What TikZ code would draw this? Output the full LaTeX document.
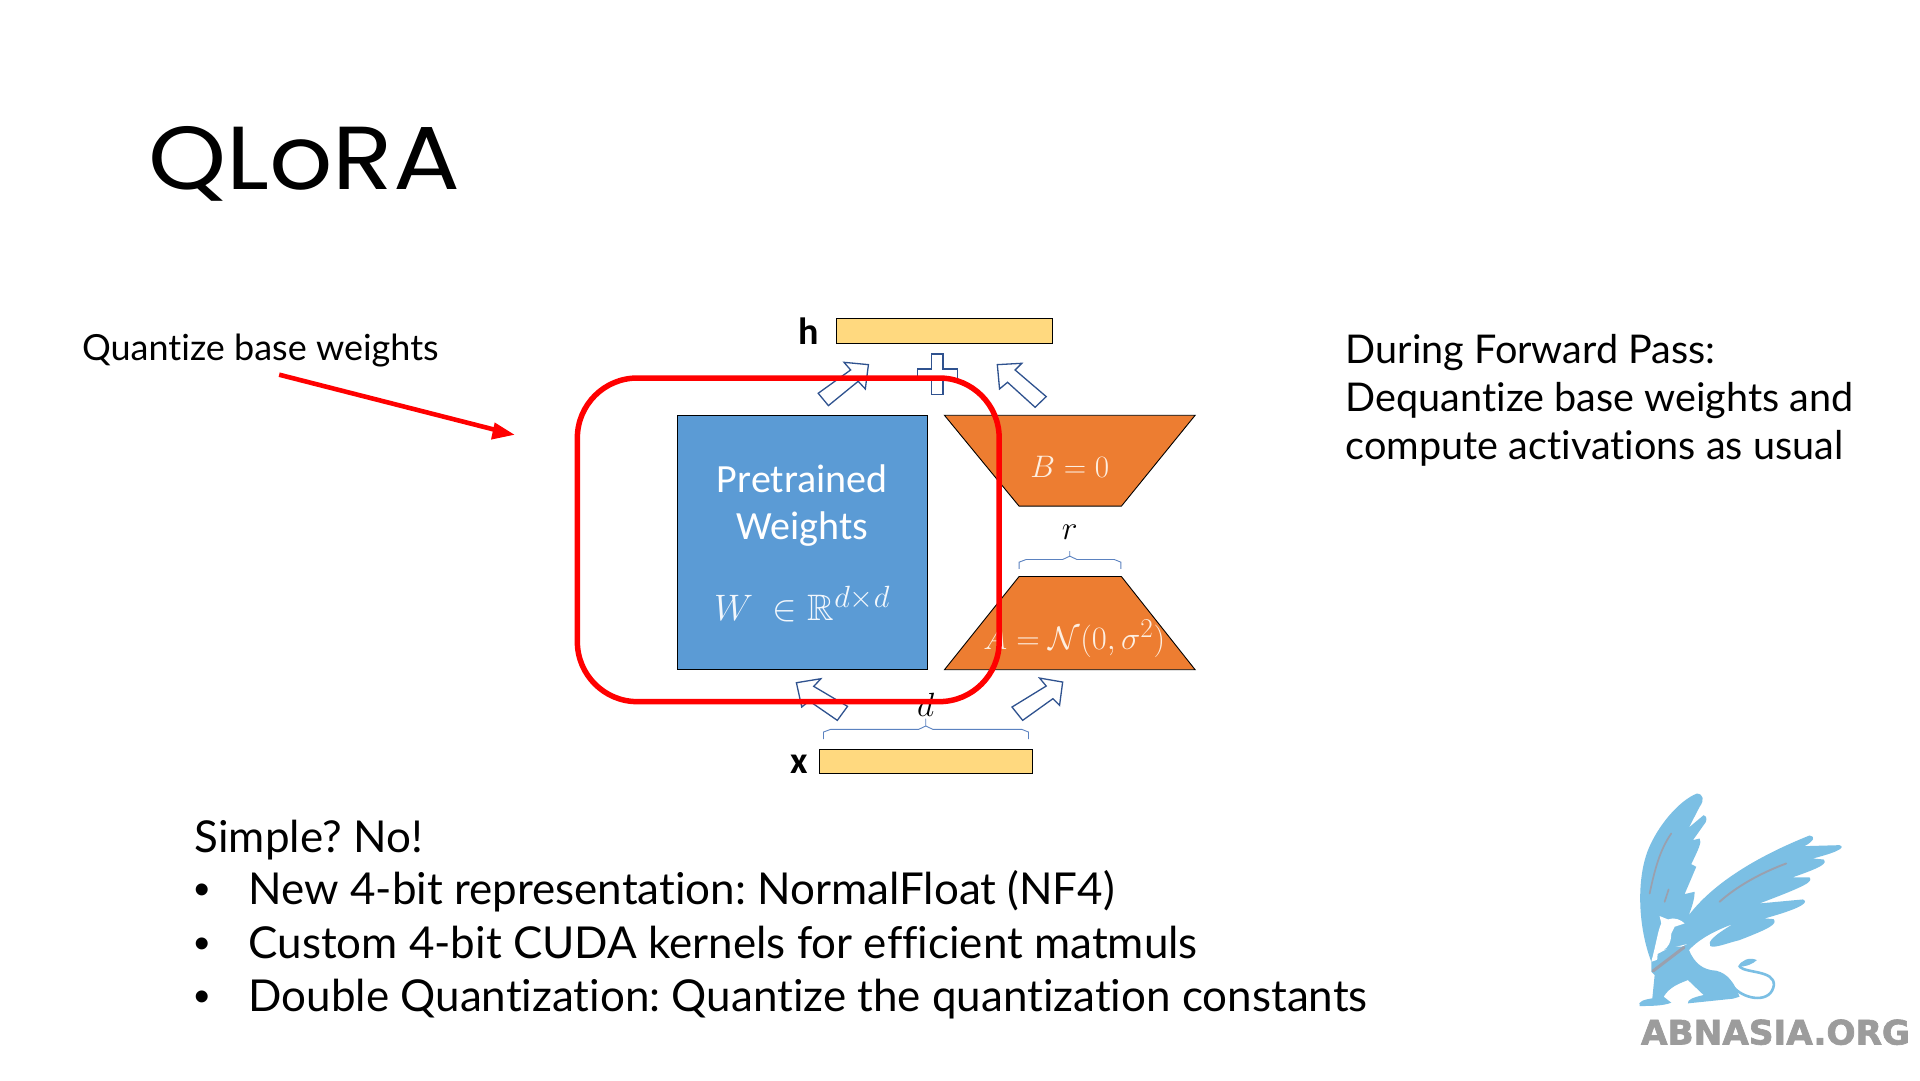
\documentclass[tikz,border=0pt]{standalone}
\usepackage{amsmath,amssymb}
\usepackage{fontspec}
\setmainfont{Lato}[Ligatures=NoCommon]
\newfontfamily\titlefont{Poppins}
\newfontfamily\calib{Carlito}
\newfontfamily\bulletfont{Liberation Sans}
\newfontfamily\logofont[FakeBold=2]{DejaVu Sans}
\usetikzlibrary{calc}
\definecolor{boxblue}{HTML}{5B9BD5}
\definecolor{orng}{HTML}{ED7D31}
\definecolor{barY}{HTML}{FFD97F}
\definecolor{arrowblue}{HTML}{2F528F}
\definecolor{bracecol}{HTML}{5B82C0}
\definecolor{griff}{HTML}{7BBFE4}
\definecolor{griffgray}{HTML}{9AA0AE}
\definecolor{logogray}{HTML}{9C9C9C}
\definecolor{softw}{HTML}{FDEEE0}
\tikzset{
  txt/.style={anchor=base west,inner sep=0pt,outer sep=0pt,text=black},
  solidshape/.style={draw=black,line width=0.9pt},
  blockarrow/.style={draw=arrowblue,fill=white,line width=1.3pt,line join=miter},
  bracel/.style={draw=bracecol,line width=0.9pt},
  redline/.style={draw=red,line width=5.5pt},
  mathw/.style={inner sep=0pt,text=softw,font=\fontsize{24.88}{30}\selectfont},
  griffstroke/.style={griffgray,line cap=round}
}
\frenchspacing
\begin{document}
\begin{tikzpicture}[x=1.2245pt,y=-1.2245pt]
\useasboundingbox (0,0) rectangle (1568,882);
\fill[white] (0,0) rectangle (1568,882);

\node[txt,font=\titlefont\fontsize{86}{100}\selectfont] (title) at (121,154.5) {\scalebox{1.155}[1.04]{QLoRA}};
\node[txt,font=\fontsize{36}{43}\selectfont] (quant) at (67,294) {Quantize base weights};
\coordinate (qa) at (228,306); \coordinate (qb) at (420,355);
\draw[red,line width=4.6pt] (qa) -- ($(qa)!0.95!(qb)$);
\fill[red] (qb) -- (404,345) -- (401,359) -- cycle;

\node[txt,font=\fontsize{39.6}{48}\selectfont] (fw1) at (1099,297) {During Forward Pass:};
\node[txt,font=\fontsize{39.6}{48}\selectfont] (fw2) at (1099,336) {Dequantize base weights and};
\node[txt,font=\fontsize{39.6}{48}\selectfont] (fw3) at (1099,375) {compute activations as usual};

\node[txt,font=\fontsize{43.95}{53}\selectfont] (s0) at (159,696.5) {Simple? No!};
\node[txt,font=\bulletfont\fontsize{44}{53}\selectfont] (b1) at (159,739) {•};
\node[txt,font=\fontsize{43.95}{53}\selectfont] (t1) at (203,739) {New 4-bit representation: NormalFloat (NF4)};
\node[txt,font=\bulletfont\fontsize{44}{53}\selectfont] (b2) at (159,783) {•};
\node[txt,font=\fontsize{43.95}{53}\selectfont] (t2) at (203,783) {Custom 4-bit CUDA kernels for efficient matmuls};
\node[txt,font=\bulletfont\fontsize{44}{53}\selectfont] (b3) at (159,826) {•};
\node[txt,font=\fontsize{43.95}{53}\selectfont] (t3) at (203,826) {Double Quantization: Quantize the quantization constants};

% diagram, in crop coordinates
\begin{scope}[shift={(442.4,237.4)},xscale=.363,yscale=.272]
  \draw[solidshape,fill=barY] (662,83) rectangle (1149,158);
  \draw[solidshape,fill=barY] (625,1378) rectangle (1104,1450);
  \node[inner sep=0pt,font=\calib\bfseries\fontsize{38}{42}\selectfont] (h) at (600,122) {h};
  \node[inner sep=0pt,font=\calib\bfseries\fontsize{38}{42}\selectfont] (x) at (580,1422) {x};
  \draw[solidshape,fill=boxblue] (305,375) rectangle (868,1138);
  \node[inner sep=0pt,text=white,font=\calib\fontsize{40}{44}\selectfont] (pre) at (586,566) {Pretrained};
  \node[inner sep=0pt,text=white,font=\calib\fontsize{40}{44}\selectfont] (wei) at (586,717) {Weights};
  \node[inner sep=0pt,text=white!92!boxblue,font=\fontsize{24.88}{30}\selectfont] (wm) at (586,940) {\scalebox{1.48}{$W\ \in\mathbb{R}^{d\times d}$}};
  \draw[solidshape,fill=orng] (906,374) -- (1470,374) -- (1304,647) -- (1074,647) -- cycle;
  \draw[solidshape,fill=orng] (906,1138) -- (1470,1138) -- (1304,858) -- (1074,858) -- cycle;
  \node[mathw] (bz) at (1188,530) {\scalebox{1.25}{$B=0$}};
  \node[mathw] (az) at (1198,1045) {\scalebox{1.31}{$A=\mathcal{N}(0,\sigma^2)$}};
  \node[inner sep=0pt,font=\fontsize{24.88}{30}\selectfont] (r) at (1188,725) {\scalebox{1.35}{$r$}};
  \node[inner sep=0pt,font=\fontsize{24.88}{30}\selectfont] (d) at (864,1243) {\scalebox{1.35}{$d$}};
  \draw[bracel] (1074,835) -- (1074,815) -- (1090,807) -- (1172,807) -- (1188,797) -- (1188,782) (1188,797) -- (1204,807) -- (1288,807) -- (1303,815) -- (1303,835);
  \draw[bracel] (634,1346) -- (634,1325) -- (650,1317) -- (848,1317) -- (864,1307) -- (864,1285) (864,1307) -- (880,1317) -- (1080,1317) -- (1095,1325) -- (1095,1346);
  \draw[blockarrow] (622,308) -- (695,238) -- (680,215) -- (735,222) -- (728,295) -- (712,272) -- (645,345) -- cycle;
  \draw[blockarrow] (1135,318) -- (1065,238) -- (1080,218) -- (1025,222) -- (1030,295) -- (1048,275) -- (1110,350) -- cycle;
  \draw[blockarrow] (877,190) -- (903,190) -- (903,235) -- (935,235) -- (935,265) -- (903,265) -- (903,312) -- (877,312) -- (877,265) -- (845,265) -- (845,235) -- (877,235) -- cycle;
  \draw[blockarrow] (688,1248) -- (612,1188) -- (628,1165) -- (573,1177) -- (585,1250) -- (602,1232) -- (665,1290) -- cycle;
  \draw[blockarrow] (1058,1250) -- (1135,1187) -- (1120,1163) -- (1172,1175) -- (1165,1245) -- (1150,1225) -- (1082,1290) -- cycle;
\end{scope}
\draw[redline,rounded corners=60pt] (471.5,308.7) rectangle (816,573);

% griffin logo, in crop coordinates
\begin{scope}[shift={(1306.4,629)},scale=.272]
  \fill[griff] (155,575) .. controls (115,470) and (110,330) .. (145,240) .. controls (175,165) and (240,90) .. (292,70)
    .. controls (312,72) and (315,90) .. (300,110) -- (268,172) -- (312,135) .. controls (325,138) and (322,155) .. (312,165) -- (280,210)
    -- (300,205) .. controls (308,215) and (295,240) .. (275,282) -- (290,290) -- (255,372) -- (285,365) .. controls (285,390) and (275,415) .. (267,436)
    .. controls (340,340) and (470,260) .. (630,196) .. controls (648,198) and (645,212) .. (615,228)
    -- (720,225) .. controls (735,230) and (730,242) .. (640,265) -- (672,268) .. controls (685,280) and (665,292) .. (578,322)
    -- (630,322) .. controls (640,335) and (625,345) .. (480,400) -- (610,388) .. controls (628,395) and (615,412) .. (495,445)
    -- (522,447) .. controls (535,462) and (510,475) .. (420,510) .. controls (380,520) and (345,535) .. (332,528) .. controls (322,515) and (345,495) .. (400,462)
    .. controls (350,480) and (300,505) .. (268,540)
    .. controls (285,580) and (310,600) .. (350,602) .. controls (385,610) and (405,640) .. (420,680) -- (400,686) -- (265,700) .. controls (262,690) and (280,682) .. (312,675)
    -- (265,630) .. controls (240,640) and (210,650) .. (192,680) -- (215,698) .. controls (190,708) and (150,708) .. (120,708) .. controls (112,695) and (135,688) .. (158,685)
    -- (165,615) -- (155,605) -- cycle;
  \fill[white] (180,438) -- (205,448) .. controls (225,440) and (245,450) .. (255,460) -- (225,470) -- (215,490) .. controls (215,515) and (205,535) .. (190,540) -- (262,522) -- (170,570) -- (155,575) .. controls (170,520) and (175,480) .. (185,460) -- cycle;
  \fill[griff] (174,552) -- (215,530) -- (250,530) -- (172,580) -- cycle;
  \draw[griff,line width=2.6pt,line cap=round] (405,655) .. controls (440,690) and (515,700) .. (523,645) .. controls (525,600) and (440,610) .. (420,590);
  \fill[griff] (415,590) .. controls (425,570) and (450,560) .. (472,570) .. controls (460,582) and (440,590) .. (415,590) -- cycle;
  \draw[griffstroke,line width=1.7pt] (215,190) .. controls (180,240) and (165,300) .. (150,370);
  \draw[griffstroke,line width=1.7pt] (207,358) -- (195,395);
  \draw[griffstroke,line width=1.9pt] (560,280) .. controls (480,310) and (410,350) .. (360,395);
  \draw[griffstroke,line width=3pt] (253,532) -- (160,603);
\end{scope}
\node[anchor=base west,inner sep=0pt,text=logogray] (org) at (1340,853) {\resizebox{269pt}{25pt}{\logofont\bfseries ABNASIA.ORG}};
\end{tikzpicture}
\end{document}
